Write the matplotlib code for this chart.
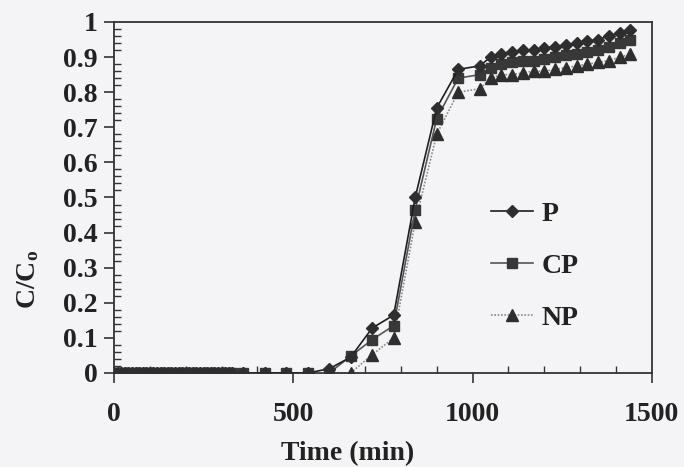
import matplotlib
matplotlib.use("Agg")
import matplotlib.pyplot as plt
from matplotlib.ticker import MultipleLocator

# Sampling times (min)
time = [0, 10, 20, 30, 40, 50, 60, 70, 80, 90, 100, 110, 120, 130, 140, 150, 160,
        170, 180, 190, 200, 210, 220, 230, 240, 250, 260, 270, 280, 290, 300, 310,
        320, 330, 360, 420, 480, 540, 600, 660, 720, 780, 840, 900, 960, 1020,
        1050, 1080, 1110, 1140, 1170, 1200, 1230, 1260, 1290, 1320, 1350, 1380,
        1410, 1440]

early_zeros = [0, 0, 0, 0, 0, 0, 0, 0, 0, 0, 0, 0, 0, 0, 0, 0, 0,
               0, 0, 0, 0, 0, 0, 0, 0, 0, 0, 0, 0, 0, 0, 0, 0, 0]

# C/Co for each material after the first 330 min
p_tail = [0, 0, 0, 0, 0.012, 0.045, 0.128, 0.165, 0.50, 0.755, 0.865, 0.875,
          0.90, 0.91, 0.915, 0.92, 0.92, 0.925, 0.93, 0.935, 0.94, 0.945, 0.95,
          0.96, 0.97, 0.978]
cp_tail = [0, 0, 0, 0, 0, 0.048, 0.095, 0.135, 0.465, 0.725, 0.84, 0.85,
           0.87, 0.88, 0.885, 0.89, 0.89, 0.895, 0.90, 0.905, 0.91, 0.915, 0.92,
           0.93, 0.94, 0.95]
np_tail = [0, 0, 0, 0, 0, 0, 0.052, 0.10, 0.43, 0.68, 0.80, 0.81,
           0.84, 0.85, 0.85, 0.855, 0.86, 0.86, 0.865, 0.87, 0.875, 0.88, 0.885,
           0.89, 0.90, 0.908]

p_vals = early_zeros + p_tail
cp_vals = early_zeros + cp_tail
np_vals = early_zeros + np_tail

labels = ["P", "CP", "NP"]
x_ticks = [0, 500, 1000, 1500]
y_ticks = [0, 0.1, 0.2, 0.3, 0.4, 0.5, 0.6, 0.7, 0.8, 0.9, 1]
y_tick_labels = ["0", "0.1", "0.2", "0.3", "0.4", "0.5", "0.6", "0.7", "0.8", "0.9", "1"]

plt.rcParams["font.family"] = ["Liberation Serif", "DejaVu Serif"]
plt.rcParams["font.weight"] = "bold"
plt.rcParams["axes.labelweight"] = "bold"
plt.rcParams["mathtext.fontset"] = "custom"
plt.rcParams["mathtext.rm"] = "Liberation Serif:bold"
plt.rcParams["mathtext.it"] = "Liberation Serif:bold"
plt.rcParams["mathtext.bf"] = "Liberation Serif:bold"

bg = "#f4f4f6"
fig = plt.figure(figsize=(6.84, 4.67), dpi=100, facecolor=bg)
ax = fig.add_axes([0.1667, 0.2013, 0.7863, 0.7516])
ax.set_facecolor("none")

ink = "#2e2e2e"
ax.plot(time, p_vals, color="#1e1e1e", lw=1.2, marker="D", ms=6.5,
        mfc=ink, mec=ink, label=labels[0], zorder=4)
ax.plot(time, cp_vals, color="#555555", lw=1.2, marker="s", ms=7.5,
        mfc="#383838", mec="#383838", label=labels[1], zorder=3)
ax.plot(time, np_vals, color="#8a8a8a", lw=1.2, ls=(0, (1, 1)), marker="^", ms=8,
        mfc=ink, mec=ink, label=labels[2], zorder=2)

ax.set_xlim(0, 1500)
ax.set_ylim(0, 1)
ax.set_xticks(x_ticks)
ax.set_yticks(y_ticks)
ax.set_yticklabels(y_tick_labels)
ax.xaxis.set_minor_locator(MultipleLocator(100))
ax.yaxis.set_minor_locator(MultipleLocator(0.02))

ax.tick_params(axis="both", which="major", direction="out", length=7, width=1.2,
               color="#333333", labelsize=20, labelcolor="#222222")
ax.tick_params(axis="x", which="major", pad=14)
ax.tick_params(axis="y", which="major", pad=5)
ax.tick_params(axis="both", which="minor", direction="in", length=5, width=1.0,
               color="#333333")
for side in ("left", "bottom", "top", "right"):
    ax.spines[side].set_linewidth(1.3)
    ax.spines[side].set_color("#333333")

ax.set_xlabel("Time (min)", fontsize=20, fontweight="bold", color="#222222")
ax.xaxis.set_label_coords(0.435, -0.195)
ax.set_ylabel(r"C/C$_\mathrm{o}$", fontsize=20, fontweight="bold", color="#222222")
ax.yaxis.set_label_coords(-0.135, 0.265)

leg = ax.legend(loc="upper left", bbox_to_anchor=(0.655, 0.56), frameon=False,
                handlelength=1.5, handletextpad=0.3, labelspacing=0.95,
                prop={"family": "Liberation Serif", "weight": "bold", "size": 20})
for t in leg.get_texts():
    t.set_color("#222222")

fig.savefig("out.png", dpi=100, facecolor=bg)
